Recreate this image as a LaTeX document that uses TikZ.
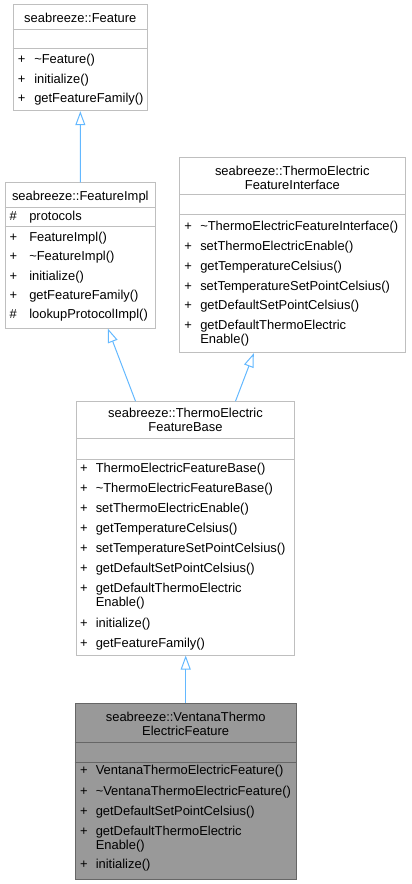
\documentclass[tikz,border=0pt]{standalone}
\usepackage{fontspec}
\setmainfont{Liberation Sans}
\usetikzlibrary{calc,arrows.meta,fit}
\definecolor{edgeblue}{HTML}{63B8FF}
\definecolor{boxgrey}{HTML}{BFBFBF}
\definecolor{hlfill}{HTML}{999999}
\definecolor{hlline}{HTML}{666666}

\begin{document}
\begin{tikzpicture}[x=0.75pt,y=-0.75pt,line cap=butt,
    cls/.style={draw=boxgrey,line width=0.75pt,inner sep=0pt},
    hlcls/.style={cls,draw=hlline,fill=hlfill},
    sep/.style={boxgrey,line width=0.75pt},
    hlsep/.style={hlline,line width=0.75pt},
    title/.style={anchor=base,inner sep=0pt,align=center,
      font=\fontsize{9.7}{10.5}\selectfont},
    sign/.style={anchor=base,inner sep=0pt,font=\fontsize{9.7}{10.5}\selectfont},
    mem/.style={anchor=base west,inner sep=0pt,align=left,
      font=\fontsize{9.7}{10.5}\selectfont},
    inherit/.style={edgeblue,line width=0.75pt,
      -{Triangle[open,length=10.5pt,width=7.5pt]}}]
  \useasboundingbox (0,0) rectangle (411,884);

  % seabreeze::Feature
  \node[cls,fit={(13,5) (147.7,110.7)}] (feat) {};
  \draw[sep] (feat.west |- 0,30) -- (feat.east |- 0,30);
  \draw[sep] (feat.west |- 0,49) -- (feat.east |- 0,49);
  \node[title] (feat-t) at (80.3,23) {seabreeze::Feature};
  \foreach \y/\s/\t [count=\i] in {63.5/+/{\textasciitilde Feature()},
      83.5/+/{initialize()}, 103/+/{getFeatureFamily()}} {
    \node[sign] (feat-s\i) at (21.7,\y) {\s};
    \node[mem] (feat-m\i) at (34,\y) {\t};
  }

  % seabreeze::FeatureImpl
  \node[cls,fit={(5,183) (155.6,328)}] (fimpl) {};
  \draw[sep] (fimpl.west |- 0,208) -- (fimpl.east |- 0,208);
  \draw[sep] (fimpl.west |- 0,227) -- (fimpl.east |- 0,227);
  \node[title] (fimpl-t) at (80.3,200.3) {seabreeze::FeatureImpl};
  \foreach \y/\s/\t [count=\i] in {220.6/\#/{protocols},
      241.6/+/{FeatureImpl()}, 260.8/+/{\textasciitilde FeatureImpl()},
      280/+/{initialize()}, 299.2/+/{getFeatureFamily()},
      318.6/\#/{lookupProtocolImpl()}} {
    \node[sign] (fimpl-s\i) at (13.3,\y) {\s};
    \node[mem] (fimpl-m\i) at (29,\y) {\t};
  }

  % seabreeze::ThermoElectricFeatureInterface
  \node[cls,fit={(179.7,158) (405,352.7)}] (teif) {};
  \draw[sep] (teif.west |- 0,195) -- (teif.east |- 0,195);
  \draw[sep] (teif.west |- 0,215) -- (teif.east |- 0,215);
  \node[title] (teif-t) at (292.3,189.3) {seabreeze::ThermoElectric\\FeatureInterface};
  \foreach \y/\s/\t [count=\i] in {230.6/+/{\textasciitilde ThermoElectricFeatureInterface()},
      250.4/+/{setThermoElectricEnable()}, 270.2/+/{getTemperatureCelsius()},
      290/+/{setTemperatureSetPointCelsius()}, 309.8/+/{getDefaultSetPointCelsius()}} {
    \node[sign] (teif-s\i) at (188.2,\y) {\s};
    \node[mem] (teif-m\i) at (200,\y) {\t};
  }
  \node[sign] (teif-s6) at (188.2,329.6) {+};
  \node[mem] (teif-m6) at (200,343.6) {getDefaultThermoElectric\\Enable()};

  % seabreeze::ThermoElectricFeatureBase
  \node[cls,fit={(76.7,401.7) (294.4,655)}] (tebase) {};
  \draw[sep] (tebase.west |- 0,438) -- (tebase.east |- 0,438);
  \draw[sep] (tebase.west |- 0,459) -- (tebase.east |- 0,459);
  \node[title] (tebase-t) at (185.5,431.6) {seabreeze::ThermoElectric\\FeatureBase};
  \foreach \y/\s/\t [count=\i] in {472.6/+/{ThermoElectricFeatureBase()},
      492.6/+/{\textasciitilde ThermoElectricFeatureBase()},
      512.6/+/{setThermoElectricEnable()}, 532.6/+/{getTemperatureCelsius()},
      552.6/+/{setTemperatureSetPointCelsius()}, 572.6/+/{getDefaultSetPointCelsius()}} {
    \node[sign] (tebase-s\i) at (84,\y) {\s};
    \node[mem] (tebase-m\i) at (95.5,\y) {\t};
  }
  \node[sign] (tebase-s7) at (84,592.6) {+};
  \node[mem] (tebase-m7) at (95.5,606.6) {getDefaultThermoElectric\\Enable()};
  \foreach \y/\s/\t [count=\i from 8] in {627.6/+/{initialize()},
      647.6/+/{getFeatureFamily()}} {
    \node[sign] (tebase-s\i) at (84,\y) {\s};
    \node[mem] (tebase-m\i) at (95.5,\y) {\t};
  }

  % seabreeze::VentanaThermoElectricFeature
  \node[hlcls,fit={(75,703) (296.4,879)}] (vent) {};
  \draw[hlsep] (vent.west |- 0,742) -- (vent.east |- 0,742);
  \draw[hlsep] (vent.west |- 0,762) -- (vent.east |- 0,762);
  \node[title] (vent-t) at (185.7,735.3) {seabreeze::VentanaThermo\\ElectricFeature};
  \foreach \y/\s/\t [count=\i] in {774.6/+/{VentanaThermoElectricFeature()},
      795.6/+/{\textasciitilde VentanaThermoElectricFeature()},
      815.6/+/{getDefaultSetPointCelsius()}} {
    \node[sign] (vent-s\i) at (84,\y) {\s};
    \node[mem] (vent-m\i) at (95.5,\y) {\t};
  }
  \node[sign] (vent-s4) at (84,835.6) {+};
  \node[mem] (vent-m4) at (95.5,849.6) {getDefaultThermoElectric\\Enable()};
  \node[sign] (vent-s5) at (84,868.6) {+};
  \node[mem] (vent-m5) at (95.5,868.6) {initialize()};

  % inheritance
  \draw[inherit] (fimpl.north) -- (feat.south);
  \draw[inherit] ($(tebase.north west)+(59.3,0)$) -- ($(fimpl.south west)+(103.3,0)$);
  \draw[inherit] ($(tebase.north west)+(159.3,0)$) -- ($(teif.south west)+(74.6,0)$);
  \draw[inherit] (vent.north) -- (vent.north |- tebase.south);
\end{tikzpicture}
\end{document}
